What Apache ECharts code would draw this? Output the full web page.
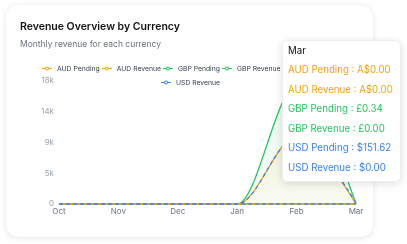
<!DOCTYPE html>
<html>
<head>
<meta charset="utf-8">
<script src="https://cdn.jsdelivr.net/npm/echarts@6/dist/echarts.min.js"></script>
<style>
  html, body { margin: 0; padding: 0; background: #ffffff; width: 407px; height: 244px; overflow: hidden; font-family: Inter, "Noto Sans", sans-serif; }
  #card { position: absolute; left: 6px; top: 5px; width: 367px; height: 232px; background: #fff; border-radius: 12px; box-shadow: 0 1px 6px rgba(0,0,0,0.10), 0 0 1px rgba(0,0,0,0.06); }
  #chart { position: absolute; left: 0; top: 0; width: 407px; height: 244px; }
</style>
</head>
<body>
<div id="card"></div>
<div id="chart"></div>
<script>
const months = ['Oct', 'Nov', 'Dec', 'Jan', 'Feb', 'Mar'];
const audPending = [0, 0, 0, 0, 9800, 0];
const audRevenue = [0, 0, 0, 0, 0, 0];
const gbpPending = [0, 0, 0, 0, 17300, 0.34];
const gbpRevenue = [0, 0, 0, 0, 0, 0];
const usdPending = [0, 0, 0, 0, 9800, 151.62];
const usdRevenue = [0, 0, 0, 0, 0, 0];
const yTicks = [0, 4500, 9000, 13500, 18000];

const ORANGE = '#f5a30b';
const GREEN = '#22c55e';
const BLUE = '#3b82f6';

const seriesDefs = [
  { name: 'AUD Pending', data: audPending, color: ORANGE, prefix: 'A$', dashed: false, z: 3, area: true },
  { name: 'AUD Revenue', data: audRevenue, color: ORANGE, prefix: 'A$', dashed: false, z: 3, area: false },
  { name: 'GBP Pending', data: gbpPending, color: GREEN, prefix: '£', dashed: false, z: 2, area: true },
  { name: 'GBP Revenue', data: gbpRevenue, color: GREEN, prefix: '£', dashed: false, z: 2, area: false },
  { name: 'USD Pending', data: usdPending, color: BLUE, prefix: '$', dashed: true, z: 4, area: false },
  { name: 'USD Revenue', data: usdRevenue, color: BLUE, prefix: '$', dashed: true, z: 4, area: false }
];

function hexA(hex, a) {
  const n = parseInt(hex.slice(1), 16);
  return 'rgba(' + ((n >> 16) & 255) + ',' + ((n >> 8) & 255) + ',' + (n & 255) + ',' + a + ')';
}

const chart = echarts.init(document.getElementById('chart'), null, { renderer: 'canvas' });
const FONT = 'Inter, "Noto Sans", sans-serif';
const legendText = { fontSize: 6.8, color: '#374151', fontFamily: FONT };
// line with hollow circle legend icon
const LEGEND_ICON = 'path://M0,2.6 L3,2.6 L3,3.4 L0,3.4 Z M7,2.6 L10,2.6 L10,3.4 L7,3.4 Z ' +
  'M3,3 A2,2 0 1 0 7,3 A2,2 0 1 0 3,3 Z M4,3 A1,1 0 1 1 6,3 A1,1 0 1 1 4,3 Z';

const legendCommon = { padding: 0, itemWidth: 10, itemHeight: 4, itemGap: 2, textStyle: legendText,
  icon: LEGEND_ICON, symbolKeepAspect: false };

const option = {
  animation: false,
  textStyle: { fontFamily: FONT },
  title: [
    { text: 'Revenue Overview by Currency', left: 20, top: 21, padding: 0,
      textStyle: { fontSize: 10.5, fontWeight: 600, color: '#111111', fontFamily: FONT } },
    { text: 'Monthly revenue for each currency', left: 20, top: 40, padding: 0,
      textStyle: { fontSize: 8.5, fontWeight: 400, color: '#6b7280', fontFamily: FONT } }
  ],
  legend: [
    Object.assign({ data: seriesDefs.slice(0, 5).map(s => s.name), left: 42, top: 65 }, legendCommon),
    Object.assign({ data: [seriesDefs[5].name], left: 161, top: 79 }, legendCommon)
  ],
  grid: { left: 59, right: 51, top: 81, bottom: 40, containLabel: false },
  xAxis: {
    type: 'category', data: months, boundaryGap: false,
    axisLine: { show: true, lineStyle: { color: '#d1d5db' } },
    axisTick: { show: false },
    axisLabel: { fontSize: 8, color: '#6b7280', margin: 4, fontFamily: FONT }
  },
  yAxis: {
    type: 'value', min: yTicks[0], max: yTicks[yTicks.length - 1], interval: yTicks[1] - yTicks[0],
    axisLine: { show: false }, axisTick: { show: false },
    splitLine: { show: false },
    axisLabel: { fontSize: 8, color: '#9ca3af', margin: 5, fontFamily: FONT,
      formatter: v => v === 0 ? '0' : Math.round(v / 1000) + 'k' }
  },
  tooltip: {
    trigger: 'axis', alwaysShowContent: true, transitionDuration: 0,
    axisPointer: { type: 'none' },
    position: [282, 40],
    backgroundColor: '#ffffff', borderColor: '#eeeeee', borderWidth: 1, borderRadius: 5,
    padding: [1, 7, 3, 5],
    extraCssText: 'box-shadow: 0 2px 8px rgba(0,0,0,0.12);',
    formatter: function (params) {
      let html = '<div style="font-family:Inter, sans-serif;font-size:9.7px;line-height:18px;color:#111;margin:0">' + params[0].axisValue + '</div>';
      params.forEach(p => {
        const d = seriesDefs[p.seriesIndex];
        const v = Number(p.value).toLocaleString('en-US', { minimumFractionDigits: 2, maximumFractionDigits: 2 });
        html += '<div style="font-family:Inter, sans-serif;font-size:9.7px;line-height:19.6px;color:' + d.color + '">' + p.seriesName + ' : ' + d.prefix + v + '</div>';
      });
      return html;
    }
  },
  series: seriesDefs.map(s => ({
    name: s.name, type: 'line', data: s.data, z: s.z,
    smooth: 0.34, smoothMonotone: 'x',
    showSymbol: false, symbol: 'none',
    itemStyle: { color: s.color },
    lineStyle: { color: s.color, width: 1.3, type: s.dashed ? [4, 3] : 'solid' },
    areaStyle: s.area ? {
      color: new echarts.graphic.LinearGradient(0, 0, 0, 1, [
        { offset: 0, color: hexA(s.color, 0.16) },
        { offset: 1, color: hexA(s.color, 0.04) }
      ])
    } : undefined,
    emphasis: { disabled: true }
  }))
};
chart.setOption(option);
chart.dispatchAction({ type: 'showTip', seriesIndex: 0, dataIndex: 5 });
</script>
</body>
</html>
